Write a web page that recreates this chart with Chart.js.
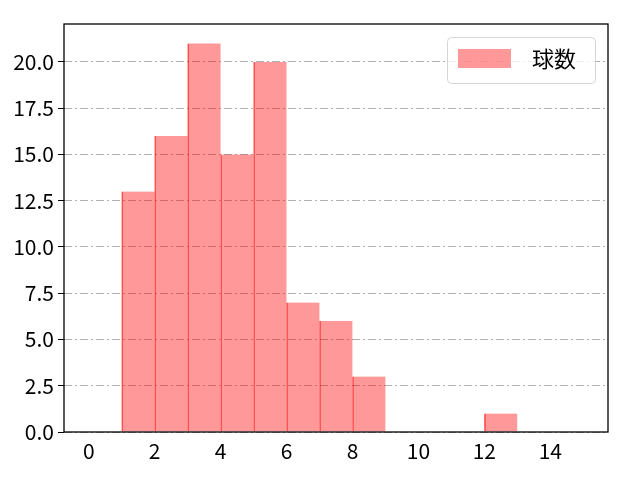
<!DOCTYPE html>
<html>
<head>
<meta charset="utf-8">
<script src="https://cdn.jsdelivr.net/npm/chart.js@4/dist/chart.umd.min.js"></script>
<style>
  html, body { margin: 0; padding: 0; background: #fff; }
  #wrap { width: 640px; height: 480px; }
</style>
</head>
<body>
<div id="wrap"><canvas id="chart" width="640" height="480"></canvas></div>
<script>
// histogram bins (left edge) and counts
const binStarts = [1, 2, 3, 4, 5, 6, 7, 8, 12];
const counts = [13, 16, 21, 15, 20, 7, 6, 3, 1];
const seriesLabel = '球数';
const xTicks = [0, 2, 4, 6, 8, 10, 12, 14];
const yTicks = [0, 2.5, 5, 7.5, 10, 12.5, 15, 17.5, 20];

const FONT = "'Noto Sans CJK JP', sans-serif";

var ctx = document.getElementById('chart').getContext('2d');

const points = binStarts.map((b, i) => ({ x: b + 0.5, y: counts[i] }));

// frame + legend drawn like matplotlib
const frameLegend = {
  id: 'frameLegend',
  afterDraw(chart) {
    const { ctx, chartArea: a } = chart;
    ctx.save();
    ctx.strokeStyle = '#000';
    ctx.lineWidth = 1.3;
    ctx.strokeRect(a.left, a.top, a.right - a.left, a.bottom - a.top);

    // legend
    const bx = 447, by = 37, bw = 148, bh = 46;
    ctx.fillStyle = 'rgba(255,255,255,0.8)';
    ctx.strokeStyle = '#d6d6d6';
    ctx.lineWidth = 1;
    ctx.beginPath();
    ctx.roundRect(bx + 0.5, by + 0.5, bw, bh, 4);
    ctx.fill();
    ctx.stroke();
    ctx.fillStyle = 'rgba(255,0,0,0.4)';
    ctx.fillRect(458, 49, 53, 19);
    ctx.fillStyle = '#000';
    ctx.font = "22px 'Noto Sans CJK JP', sans-serif";
    ctx.textBaseline = 'middle';
    ctx.fillText(chart.data.datasets[0].label, 532, 59);
    ctx.restore();
  }
};

const config = {
  type: 'bar',
  data: {
    datasets: [{
      label: seriesLabel,
      data: points,
      backgroundColor: 'rgba(255,0,0,0.4)',
      borderColor: 'rgba(255,0,0,0.6)',
      borderWidth: { left: 1, top: 0, right: 0, bottom: 0 },
      borderSkipped: false,
      barPercentage: 1,
      categoryPercentage: 1,
    }],
  },
  options: {
    responsive: false,
    animation: false,
    layout: { padding: { top: 24, right: 32, left: 0, bottom: 0 } },
    plugins: { legend: { display: false }, tooltip: { enabled: false } },
    scales: {
      x: {
        type: 'linear',
        offset: false,
        min: -0.75,
        max: 15.75,
        afterBuildTicks: (s) => { s.ticks = xTicks.map((v) => ({ value: v })); },
        afterFit: (s) => { s.height = 48; },
        grid: { display: false, offset: false, drawTicks: true, tickLength: 6, tickColor: '#000' },
        border: { display: false },
        ticks: { color: '#000', font: { family: FONT, size: 21 }, padding: 0, maxRotation: 0 },
      },
      y: {
        min: 0,
        max: 22.05,
        afterBuildTicks: (s) => { s.ticks = yTicks.map((v) => ({ value: v })); },
        afterFit: (s) => { s.width = 64; },
        grid: {
          color: '#b0b0b0',
          lineWidth: 1,
          tickLength: 6,
          tickColor: '#000',
          tickBorderDash: [],
        },
        border: { display: false, dash: [8, 3, 2, 3] },
        ticks: {
          color: '#000',
          font: { family: FONT, size: 21 },
          padding: 4,
          callback: (v) => v.toFixed(1),
        },
      },
    },
  },
  plugins: [frameLegend],
};

const chart = new Chart(ctx, config);
</script>
</body>
</html>
